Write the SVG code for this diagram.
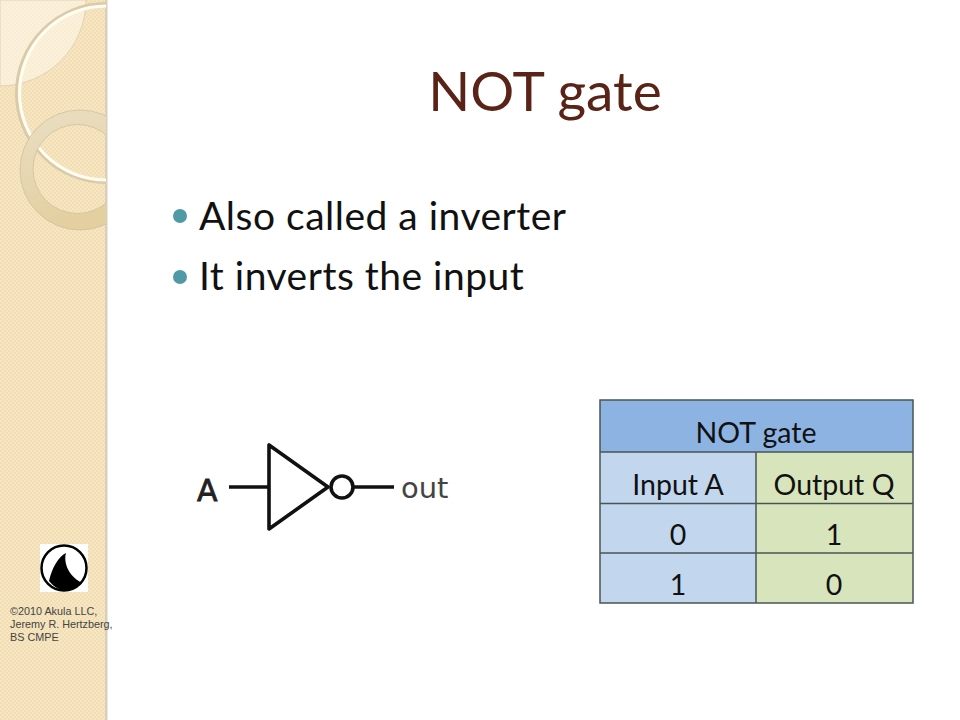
<svg xmlns="http://www.w3.org/2000/svg" width="960" height="720" viewBox="0 0 960 720">
<style>
.f{font-family:"Lato","Open Sans","Liberation Sans",sans-serif}
.cell{font-family:"Lato","Open Sans","Liberation Sans",sans-serif;font-size:28.5px;fill:#111;text-anchor:middle}
.bul{font-family:"Lato","Open Sans","Liberation Sans",sans-serif;font-size:39px;letter-spacing:0.5px;fill:#111}
.tl{stroke:#4a5555;stroke-width:1.5;fill:none}
.g{stroke:#111;stroke-width:3.6;fill:none}
.c{font-family:"Liberation Sans",Arial,sans-serif;font-size:10.8px;fill:#444}
</style>
<defs>
<pattern id="chk" width="4" height="4" patternUnits="userSpaceOnUse">
<rect width="4" height="4" fill="#f1deb2"/>
<rect width="2" height="2" fill="#f6e6c4"/>
<rect x="2" y="2" width="2" height="2" fill="#f6e6c4"/>
</pattern>
<clipPath id="side"><rect width="106" height="720"/></clipPath>
<linearGradient id="ringg" x1="0" y1="0" x2="0.3" y2="1">
<stop offset="0" stop-color="#eadfc4"/><stop offset="1" stop-color="#e3cf9f"/>
</linearGradient>
</defs>
<rect width="960" height="720" fill="#fff"/>
<g id="sidebar">
<rect width="106" height="720" fill="url(#chk)"/>
<rect x="105" width="2.500" height="720" fill="#d8cfbd"/>
<g clip-path="url(#side)">
<path d="M0 0H86A86 86 0 0 1 0 86Z" fill="#fdf6e6" fill-opacity="0.65" stroke="#e0d3b4" stroke-width="1"/>
<circle cx="106" cy="93" r="88.500" fill="none" stroke="#d9caa8" stroke-width="5"/>
<circle cx="106.500" cy="93" r="87" fill="none" stroke="#fffdf2" stroke-width="3.200"/>
<path fill-rule="evenodd" d="M140 170A60 60 0 1 1 20 170A60 60 0 1 1 140 170ZM122 169A44.500 44.500 0 1 0 33 169A44.500 44.500 0 1 0 122 169Z" fill="url(#ringg)" stroke="#cfc09c" stroke-width="0.800"/>
</g>
</g>
<g id="logo">
<rect x="40" y="544" width="48" height="48" fill="#fff"/>
<circle cx="64" cy="568" r="22.500" fill="#fff" stroke="#000" stroke-width="2.500"/>
<path d="M66 553C58 557 52 568 49 581C54 587 59 590 65 590C72 590 78 587 82 583C74 579 68 572 66 564C65 560 65 556 66 553Z" fill="#000"/>
</g>
<g id="copyright">
<text class="c" x="10" y="615">©2010 Akula LLC,</text>
<text class="c" x="10" y="628">Jeremy R. Hertzberg,</text>
<text class="c" x="10" y="641">BS CMPE</text>
</g>
<g id="title">
<text class="f" x="545" y="111" font-size="55" fill="#5a2317" text-anchor="middle">NOT gate</text>
</g>
<g id="bullets">
<circle cx="180" cy="216" r="7" fill="#4f9aa6"/>
<text class="bul" x="199" y="230">Also called a inverter</text>
<circle cx="180" cy="277" r="7" fill="#4f9aa6"/>
<text class="bul" x="199" y="290">It inverts the input</text>
</g>
<g id="gate">
<path class="g" d="M269 445V529L328 487Z" stroke-linejoin="round"/>
<circle class="g" cx="342" cy="487" r="11"/>
<text x="197" y="501" font-family="'DejaVu Sans',sans-serif" font-size="30" fill="#222" stroke="#222" stroke-width="0.800">A</text>
<text x="401" y="498" font-family="'DejaVu Sans',sans-serif" font-size="29" fill="#444">out</text>
</g>
<g id="connectors">
<path class="g" d="M229 487H269"/>
<path class="g" d="M353 487H394"/>
</g>
<g id="truth-table">
<rect x="600" y="400" width="313" height="52" fill="#8db3e2"/>
<rect x="600" y="452" width="156" height="151" fill="#c2d6ee"/>
<rect x="756" y="452" width="157" height="151" fill="#d8e4bc"/>
<path class="tl" d="M600 400H913V603H600ZM600 452H913M600 503.500H913M600 553H913M756 452V603"/>
<text class="cell" x="756" y="443">NOT gate</text>
<text class="cell" x="678" y="495">Input A</text>
<text class="cell" x="834" y="495">Output Q</text>
<text class="cell" x="678" y="545">0</text>
<text class="cell" x="834" y="545">1</text>
<text class="cell" x="678" y="595">1</text>
<text class="cell" x="834" y="595">0</text>
</g>
</svg>
